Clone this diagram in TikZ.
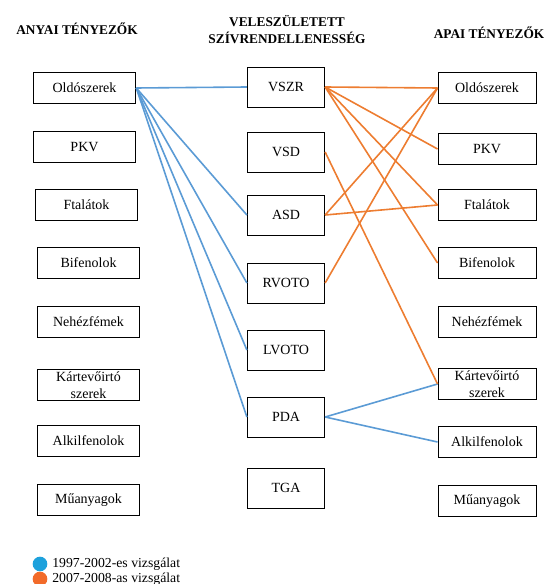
\documentclass[tikz,border=0pt]{standalone}
\usepackage{fontspec}
\setmainfont{Liberation Serif}
\usepackage{tikz}
\usetikzlibrary{positioning}
\usepackage{xcolor}
\definecolor{lineblue}{HTML}{5B9BD5}
\definecolor{lineorange}{HTML}{ED7D31}
\definecolor{legblue}{HTML}{1DA1DC}
\definecolor{legorange}{HTML}{F26B2A}

\begin{document}
\begin{tikzpicture}[x=0.75pt,y=-0.75pt,
  box/.style={draw, line width=0.7pt, inner sep=1pt, align=center,
    font=\rmfamily\fontsize{10.5}{12.5}\selectfont},
  leftbox/.style={box, minimum width=77pt, minimum height=23.5pt},
  rightbox/.style={box, minimum width=73.5pt, minimum height=23.5pt},
  midbox/.style={box, minimum width=58pt, minimum height=30pt},
  head/.style={align=center, font=\rmfamily\bfseries\fontsize{10}{13}\selectfont},
  early/.style={line width=1.2pt, lineblue},
  late/.style={line width=1.2pt, lineorange}]
  \useasboundingbox (0,0) rectangle (552,584);
  % headings
  \node[head] (anyai) at (77,29) {ANYAI TÉNYEZŐK};
  \node[head] (szr) at (287,29.5) {VELESZÜLETETT\\SZÍVRENDELLENESSÉG};
  \node[head] (apai) at (489,33) {APAI TÉNYEZŐK};
  % maternal factors
  \foreach \x/\y/\lab [count=\i] in {84.5/88/Oldószerek, 84.5/147/PKV,
      86.5/205/Ftalátok, 88.5/263/Bifenolok, 88.5/322/Nehézfémek,
      88.5/385/{Kártevőirtó\\szerek}, 88.5/441/Alkilfenolok, 88.5/500/Műanyagok} {
    \node[leftbox] (l\i) at (\x,\y) {\lab};
  }
  % defects
  \foreach \y/\lab [count=\i] in {87/VSZR, 152/VSD, 215/ASD, 283/RVOTO,
      350/LVOTO, 417/PDA, 488/TGA} {
    \node[midbox] (m\i) at (286,\y) {\lab};
  }
  % paternal factors
  \foreach \y/\lab [count=\i] in {88/Oldószerek, 149/PKV, 205/Ftalátok,
      263/Bifenolok, 322/Nehézfémek, 384/{Kártevőirtó\\szerek},
      442/Alkilfenolok, 501/Műanyagok} {
    \node[rightbox] (r\i) at (487,\y) {\lab};
  }
  % 1997-2002 links
  \foreach \j in {1,3,4,5,6} {
    \draw[early] (l1.east) -- (m\j.west);
  }
  \draw[early] (m6.east) -- (r6.west);
  \draw[early] (m6.east) -- (r7.west);
  % 2007-2008 links
  \foreach \j in {1,2,3,4} {
    \draw[late] (m1.east) -- (r\j.west);
  }
  \draw[late] (m2.east) -- (r6.west);
  \draw[late] (m3.east) -- (r1.west);
  \draw[late] (m3.east) -- (r3.west);
  \draw[late] (m4.east) -- (r1.west);
  % legend
  \node[circle, fill=legblue, minimum size=11pt, inner sep=0pt] (kb) at (40,564) {};
  \node[right=0pt of kb, font=\rmfamily\fontsize{10.3}{12}\selectfont] (kbtext) {1997-2002-es vizsgálat};
  \node[circle, fill=legorange, minimum size=11pt, inner sep=0pt] (ko) at (40,579) {};
  \node[right=0pt of ko, font=\rmfamily\fontsize{10.3}{12}\selectfont] (kotext) {2007-2008-as vizsgálat};
\end{tikzpicture}
\end{document}
